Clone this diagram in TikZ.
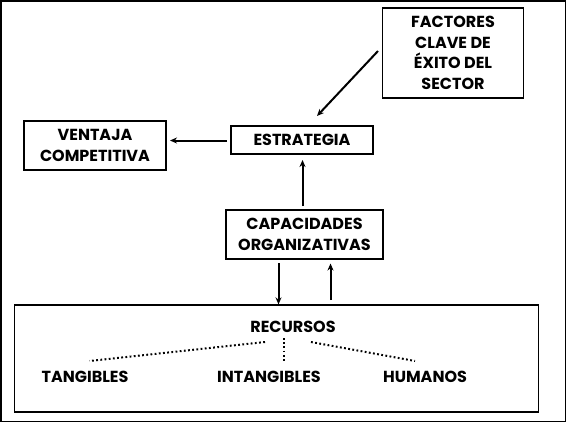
\documentclass[tikz,border=0pt]{standalone}
\usepackage{fontspec}
\setmainfont{Poppins}
\usetikzlibrary{arrows.meta}
\begin{document}
\begin{tikzpicture}[x=1pt,y=-1pt,
  box/.style={draw,line width=1.3pt,inner sep=0pt,align=center,font=\fontsize{16}{20.5}\selectfont\bfseries},
  lbl/.style={inner sep=0pt,font=\fontsize{16}{20}\selectfont\bfseries},
  arr/.style={line width=2pt,-{Stealth[length=7pt,width=6pt]}},
  dot/.style={line width=2pt,dash pattern=on 1.8pt off 2.4pt}]
\useasboundingbox (0,0) rectangle (567,423);
\draw[line width=1.3pt] (1,1) rectangle (565.5,421.5);
\node[box,minimum width=141pt,minimum height=90pt] (fac) at (453,53) {FACTORES\\CLAVE DE\\ÉXITO DEL\\SECTOR};
\node[box,minimum width=142pt,minimum height=49pt] (ven) at (95,145.5) {VENTAJA\\COMPETITIVA};
\node[box,minimum width=142pt,minimum height=28pt] (est) at (302,140) {ESTRATEGIA};
\node[box,minimum width=157pt,minimum height=49pt] (cap) at (304.5,234.5) {CAPACIDADES\\ORGANIZATIVAS};
\node[draw,line width=1.3pt,minimum width=524pt,minimum height=107pt,inner sep=0pt] (rec) at (276.5,358.5) {};
\node[lbl] (recl) at (293,327) {RECURSOS};
\node[lbl] (tan) at (85,377) {TANGIBLES};
\node[lbl] (int) at (269,377) {INTANGIBLES};
\node[lbl] (hum) at (425,377) {HUMANOS};
\coordinate (f1) at (378,51);
\coordinate (f2) at (317,116);
\draw[arr] (f1) -- (f2);
\coordinate (e1) at (227,140.5);
\coordinate (e2) at (170,140.5);
\draw[arr] (e1) -- (e2);
\coordinate (c1) at (302.5,206);
\coordinate (c2) at (302.5,160);
\draw[arr] (c1) -- (c2);
\coordinate (d1) at (278.5,263);
\draw[arr] (d1) -- (d1 |- rec.north);
\coordinate (u1) at (330.5,300);
\coordinate (u2) at (330.5,263.5);
\draw[arr] (u1) -- (u2);
\coordinate (a1) at (265,342);
\coordinate (a2) at (89.5,361);
\coordinate (b1) at (283.5,338);
\coordinate (b2) at (283.5,363);
\coordinate (c3) at (311,342);
\coordinate (c4) at (415,361);
\draw[dot] (a1) -- (a2);
\draw[dot] (b1) -- (b2);
\draw[dot] (c3) -- (c4);
\end{tikzpicture}
\end{document}
